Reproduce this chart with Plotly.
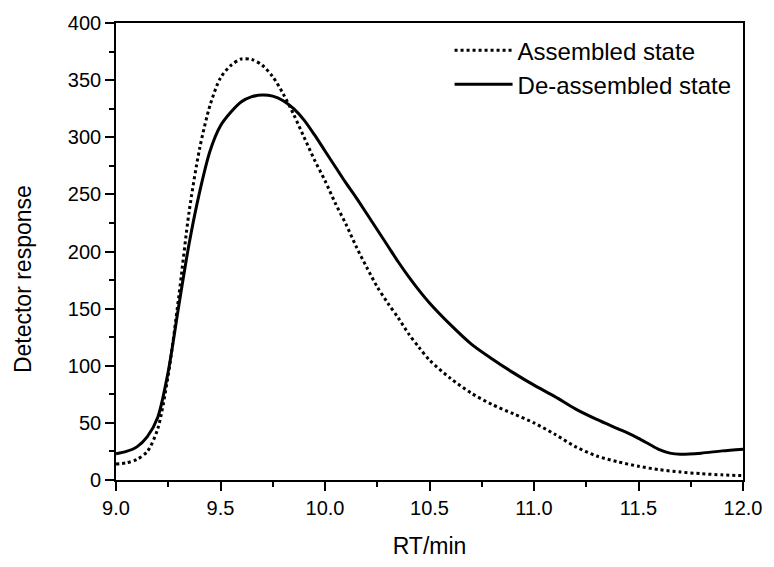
import plotly.graph_objects as go

# Retention time (min) and detector response for the two states
rt_assembled = [9.00, 9.05, 9.10, 9.15, 9.20, 9.25, 9.30, 9.35, 9.40, 9.45, 9.50, 9.55,
                9.60, 9.65, 9.70, 9.75, 9.80, 9.85, 9.90, 9.95, 10.00, 10.05, 10.10, 10.15,
                10.20, 10.25, 10.30, 10.35, 10.40, 10.45, 10.50, 10.60, 10.70, 10.80, 10.90,
                11.00, 11.10, 11.20, 11.30, 11.40, 11.50, 11.60, 11.70, 11.80, 11.90, 12.00]
resp_assembled = [14, 15, 18, 25, 45, 92, 160, 235, 290, 328, 352, 363,
                  368.5, 368, 363, 353, 338, 320, 300, 280, 262, 242, 224, 204,
                  186, 169, 155, 142, 128, 116, 105, 89, 76, 66, 58,
                  50, 40, 29, 21, 16, 12, 9, 7, 5.5, 4.5, 3.8]

rt_deassembled = [9.00, 9.05, 9.10, 9.15, 9.20, 9.25, 9.30, 9.35, 9.40, 9.45, 9.50, 9.55,
                  9.60, 9.65, 9.70, 9.75, 9.80, 9.85, 9.90, 9.95, 10.00, 10.05, 10.10, 10.15,
                  10.20, 10.25, 10.30, 10.35, 10.40, 10.45, 10.50, 10.60, 10.70, 10.80, 10.90,
                  11.00, 11.10, 11.20, 11.30, 11.40, 11.45, 11.50, 11.55, 11.60, 11.65, 11.70,
                  11.80, 11.90, 12.00]
resp_deassembled = [23, 25, 29, 38, 55, 95, 152, 207, 252, 288, 310, 322,
                    331, 335.5, 337, 336, 332, 325, 315, 302, 288, 274, 260, 247,
                    233, 219, 205, 191, 178, 166, 155, 136, 119, 106, 94,
                    83, 73, 62, 53, 45, 41, 36.5, 31.5, 26.5, 23.5, 22.5,
                    23.5, 25.5, 27]

series_names = ["Assembled state", "De-assembled state"]
x_tickvals = [9.0, 9.5, 10.0, 10.5, 11.0, 11.5, 12.0]
x_ticktext = ["9.0", "9.5", "10.0", "10.5", "11.0", "11.5", "12.0"]
y_tickvals = [0, 50, 100, 150, 200, 250, 300, 350, 400]

FONT = "Liberation Sans, Arial, sans-serif"

fig = go.Figure()
fig.add_trace(go.Scatter(
    x=rt_assembled, y=resp_assembled, mode="lines", name=series_names[0],
    line=dict(color="black", width=3, dash="3px,3px", shape="spline", smoothing=0.8),
))
fig.add_trace(go.Scatter(
    x=rt_deassembled, y=resp_deassembled, mode="lines", name=series_names[1],
    line=dict(color="black", width=3, shape="spline", smoothing=0.8),
))

axis_common = dict(
    showline=True, linecolor="black", linewidth=1.6, mirror=True,
    ticks="outside", ticklen=9, tickwidth=1.5, tickcolor="black",
    showgrid=False, zeroline=False,
    tickfont=dict(family=FONT, size=20, color="black"),
)

fig.update_xaxes(
    range=[9.0, 12.0], tickvals=x_tickvals, ticktext=x_ticktext,
    title=dict(text="RT/min", font=dict(family=FONT, size=23, color="black"), standoff=20),
    minor=dict(ticks="outside", ticklen=5, tickwidth=1.5, tickcolor="black", dtick=0.25, tick0=9.0),
    **axis_common,
)
fig.update_yaxes(
    range=[0, 400], tickvals=y_tickvals,
    minor=dict(ticks="outside", ticklen=5, tickwidth=1.5, tickcolor="black", dtick=25, tick0=0),
    **axis_common,
)

fig.add_annotation(
    text="Detector response", textangle=-90, showarrow=False,
    xref="paper", yref="paper", x=-0.148, y=0.44, xanchor="center", yanchor="middle",
    font=dict(family=FONT, size=23, color="black"),
)

fig.update_layout(
    width=774, height=567,
    margin=dict(l=116, r=21, t=22, b=73),
    paper_bgcolor="white", plot_bgcolor="white",
    showlegend=True,
    legend=dict(x=0.532, y=0.989, xanchor="left", yanchor="top",
                bgcolor="rgba(0,0,0,0)", borderwidth=0,
                font=dict(family=FONT, size=24, color="black"),
                tracegroupgap=0, itemwidth=58),
)

fig.write_html("out.html", config={"displayModeBar": False},
               post_script="document.body.style.margin='0';")
